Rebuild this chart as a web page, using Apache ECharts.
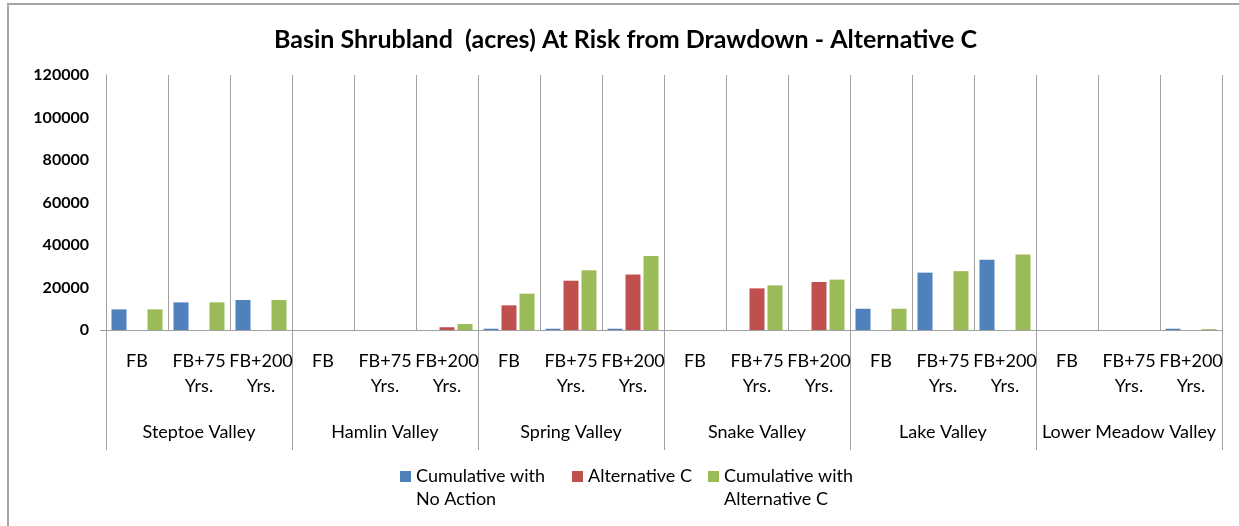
<!DOCTYPE html>
<html>
<head>
<meta charset="utf-8">
<title>Basin Shrubland (acres) At Risk from Drawdown - Alternative C</title>
<script src="https://cdn.jsdelivr.net/npm/echarts@6/dist/echarts.min.js"></script>
<style>
  html, body { margin: 0; padding: 0; background: #fff; }
  #frame { position: absolute; left: 7px; top: 3px; width: 1232px; height: 523px;
           border-left: 2px solid #a6a6a6; border-top: 2px solid #a6a6a6; box-sizing: border-box; }
  #chart { position: absolute; left: 0; top: 0; width: 1239px; height: 526px; }
</style>
</head>
<body>
<div id="frame"></div>
<div id="chart"></div>
<script>
// Valleys and time steps
const valleys = ['Steptoe Valley', 'Hamlin Valley', 'Spring Valley', 'Snake Valley', 'Lake Valley', 'Lower Meadow Valley'];
const periods = ['FB', 'FB+75 Yrs.', 'FB+200 Yrs.'];
const yTicks = [0, 20000, 40000, 60000, 80000, 100000, 120000];

// Acres at risk, one value per valley / period
const cumulativeNoAction = [9700, 13000, 14100, 0, 0, 0, 600, 600, 600, 0, 0, 0, 10000, 27000, 33100, 0, 0, 600];
const alternativeC = [0, 0, 0, 0, 0, 1300, 11600, 23200, 26100, 0, 19600, 22600, 0, 0, 0, 0, 0, 0];
const cumulativeAltC = [9700, 13000, 14100, 0, 0, 2800, 17100, 28100, 34800, 0, 21000, 23700, 10000, 27700, 35500, 0, 0, 400];

const seriesNames = ['Cumulative with No Action', 'Alternative C', 'Cumulative with Alternative C'];
const legendText = {
  'Cumulative with No Action': 'Cumulative with\nNo Action',
  'Alternative C': 'Alternative C',
  'Cumulative with Alternative C': 'Cumulative with\nAlternative C'
};
const colors = ['#4F81BD', '#C0504D', '#9BBB59'];

const categories = [];
valleys.forEach(() => periods.forEach(p => categories.push(p)));

const FONT = 'Lato, "Open Sans", sans-serif';
const GRID_COLOR = '#a0a0a0';
const LEGEND_LINE = 23;
const KEY = 11;

// Square key sitting level with the first line of a two-line legend label
const topSquare = 'path://M0 0L0.01 0M0 6L11 6L11 17L0 17ZM0 46L0.01 46';

const chart = echarts.init(document.getElementById('chart'), null, { renderer: 'canvas' });

const makeBar = (name, data, color) => ({
  name: name,
  type: 'bar',
  xAxisIndex: 0,
  data: data,
  barWidth: 15,
  barGap: '20%',
  itemStyle: { color: color },
  emphasis: { disabled: true }
});

const legendTextStyle = { fontFamily: FONT, fontSize: 18, color: '#000', lineHeight: LEGEND_LINE };

const makeLegend = (name, left, twoLine) => ({
  data: [name],
  left: left,
  top: 460,
  padding: 5,
  itemWidth: KEY,
  itemHeight: twoLine ? 46 : KEY,
  icon: twoLine ? topSquare : 'rect',
  itemGap: 0,
  selectedMode: false,
  formatter: n => legendText[n],
  textStyle: legendTextStyle
});

chart.setOption({
  animation: false,
  color: colors,
  title: {
    text: 'Basin Shrubland  (acres) At Risk from Drawdown - Alternative C',
    left: 269,
    top: 22,
    padding: 5,
    textStyle: { fontFamily: FONT, fontSize: 25, fontWeight: 'bold', color: '#000' }
  },
  legend: [
    makeLegend(seriesNames[0], 395, true),
    makeLegend(seriesNames[1], 567, false),
    makeLegend(seriesNames[2], 703, true)
  ],
  grid: { left: 106, right: 17, top: 75, bottom: 196, containLabel: false },
  xAxis: [
    {
      type: 'category',
      data: categories,
      position: 'bottom',
      boundaryGap: true,
      axisLine: { show: true, lineStyle: { color: GRID_COLOR, width: 1 } },
      axisTick: { show: false },
      splitLine: { show: true, interval: 0, lineStyle: { color: GRID_COLOR, width: 1 } },
      axisLabel: {
        interval: 0,
        margin: 19,
        fontFamily: FONT,
        fontSize: 18,
        color: '#000',
        lineHeight: 25,
        formatter: v => v.replace(' Yrs.', '\nYrs.')
      }
    },
    {
      type: 'category',
      data: valleys,
      position: 'bottom',
      boundaryGap: true,
      axisLine: { show: false },
      axisTick: { show: true, length: 120, interval: 0, lineStyle: { color: GRID_COLOR, width: 1 } },
      splitLine: { show: false },
      axisLabel: {
        interval: 0,
        margin: 93,
        fontFamily: FONT,
        fontSize: 18,
        color: '#000'
      }
    }
  ],
  yAxis: {
    type: 'value',
    min: yTicks[0],
    max: yTicks[yTicks.length - 1],
    interval: yTicks[1] - yTicks[0],
    axisLine: { show: true, lineStyle: { color: GRID_COLOR, width: 1 } },
    axisTick: { show: true, length: 6, customValues: [yTicks[0]], lineStyle: { color: GRID_COLOR } },
    splitLine: { show: true, lineStyle: { color: GRID_COLOR, width: 1 } },
    axisLabel: {
      fontFamily: FONT, fontSize: 16, fontWeight: 'bold', color: '#000', margin: 17,
      formatter: v => String(v)
    }
  },
  series: [
    makeBar(seriesNames[0], cumulativeNoAction, colors[0]),
    makeBar(seriesNames[1], alternativeC, colors[1]),
    makeBar(seriesNames[2], cumulativeAltC, colors[2])
  ]
});
</script>
</body>
</html>
